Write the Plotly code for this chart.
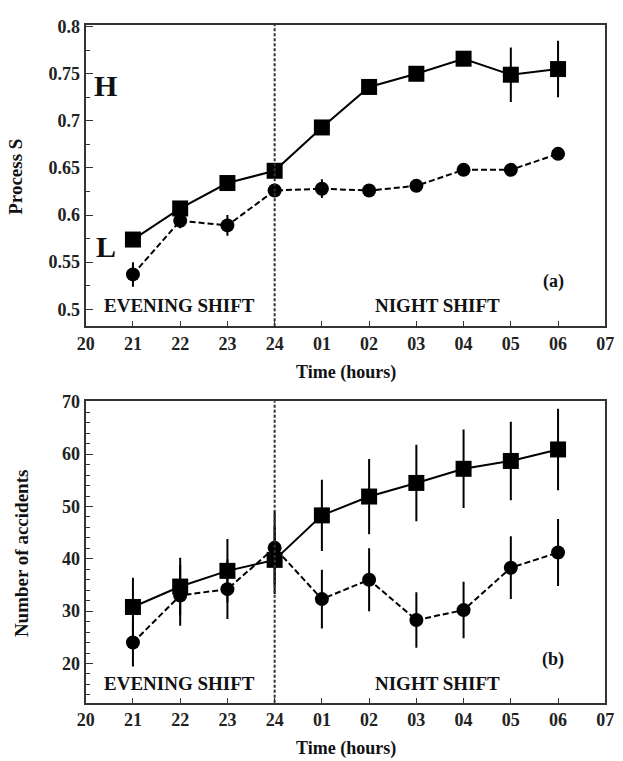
import plotly.graph_objects as go

hours = [21, 22, 23, 24, 25, 26, 27, 28, 29, 30]
x_tickvals = list(range(20, 32))
x_ticktext = ["20", "21", "22", "23", "24", "01", "02", "03", "04", "05", "06", "07"]

# Panel (a): Process S
s_high = [0.574, 0.607, 0.634, 0.647, 0.693, 0.736, 0.750, 0.766, 0.749, 0.755]
s_high_err = [0.004, 0.004, 0.004, 0.004, 0.004, 0.004, 0.004, 0.004, 0.029, 0.030]
s_low = [0.537, 0.594, 0.589, 0.626, 0.628, 0.626, 0.631, 0.648, 0.648, 0.665]
s_low_err = [0.013, 0.008, 0.011, 0.006, 0.010, 0.005, 0.005, 0.005, 0.005, 0.005]

# Panel (b): Number of accidents
acc_high = [30.8, 34.7, 37.7, 39.8, 48.3, 51.9, 54.5, 57.2, 58.7, 60.9]
acc_high_err = [5.6, 5.5, 6.1, 6.5, 6.8, 7.2, 7.3, 7.5, 7.5, 7.8]
acc_low = [24.0, 33.0, 34.2, 42.1, 32.3, 36.0, 28.3, 30.2, 38.3, 41.2]
acc_low_err = [4.6, 5.8, 5.7, 7.0, 5.6, 6.0, 5.3, 5.4, 6.0, 6.4]

top_yticks = [0.5, 0.55, 0.6, 0.65, 0.7, 0.75, 0.8]
top_yticktext = ["0.5", "0.55", "0.6", "0.65", "0.7", "0.75", "0.8"]
bot_yticks = [20, 30, 40, 50, 60, 70]
bot_yticktext = ["20", "30", "40", "50", "60", "70"]

SERIF = "Liberation Serif"
BLACK = "#000000"
AXC = "#333333"

def b(t):
    return "<b>" + t + "</b>"

fig = go.Figure()

def add_series(x, y, err, symbol, dash, size, xa, ya):
    fig.add_trace(go.Scatter(
        x=x, y=y, mode="lines+markers",
        line=dict(color=BLACK, width=2, dash=dash),
        marker=dict(symbol=symbol, size=size, color=BLACK),
        error_y=dict(type="data", array=err, visible=True, color=BLACK, thickness=2, width=0),
        xaxis=xa, yaxis=ya, showlegend=False, cliponaxis=False,
    ))

add_series(hours, s_low, s_low_err, "circle", "6px,3px", 14, "x", "y")
add_series(hours, s_high, s_high_err, "square", "solid", 16, "x", "y")
add_series(hours, acc_low, acc_low_err, "circle", "6px,3px", 14, "x2", "y2")
add_series(hours, acc_high, acc_high_err, "square", "solid", 16, "x2", "y2")

tickfont = dict(family=SERIF, size=18, color="#222")

xcommon = dict(
    range=[20, 31], tickmode="array", tickvals=x_tickvals, ticktext=[b(t) for t in x_ticktext],
    ticks="inside", ticklen=5, tickwidth=1, tickcolor=AXC,
    showline=True, linecolor=AXC, linewidth=2, mirror=True,
    showgrid=False, zeroline=False, tickfont=tickfont, ticklabeloverflow="allow",
)

fig.update_layout(
    width=623, height=761,
    margin=dict(l=0, r=0, t=0, b=0),
    paper_bgcolor="white", plot_bgcolor="white",
    xaxis=dict(**{**xcommon, "anchor": "y", "domain": [0.1268, 0.9856]}),
    xaxis2=dict(**{**xcommon, "anchor": "y2", "domain": [0.1268, 0.9856]}),
    yaxis=dict(
        domain=[0.5782, 0.979], anchor="x", range=[0.482, 0.802],
        tickmode="array", tickvals=top_yticks, ticktext=[b(t) for t in top_yticktext],
        ticks="inside", ticklen=7, tickwidth=1, tickcolor=AXC,
        minor=dict(ticks="inside", ticklen=4, tickwidth=1, tickcolor=AXC, dtick=0.025, tick0=0.5, showgrid=False),
        showline=True, linecolor=AXC, linewidth=2, mirror=True,
        showgrid=False, zeroline=False, tickfont=tickfont, ticklabeloverflow="allow",
    ),
    yaxis2=dict(
        domain=[0.0775, 0.4783], anchor="x2", range=[12.5, 70.1],
        tickmode="array", tickvals=bot_yticks, ticktext=[b(t) for t in bot_yticktext],
        ticks="inside", ticklen=7, tickwidth=1, tickcolor=AXC,
        minor=dict(ticks="inside", ticklen=4, tickwidth=1, tickcolor=AXC, dtick=2, tick0=0, showgrid=False),
        showline=True, linecolor=AXC, linewidth=2, mirror=True,
        showgrid=False, zeroline=False, tickfont=tickfont, ticklabeloverflow="allow",
    ),
)

# vertical dashed separators at midnight
for xr, yr in [("x", "y domain"), ("x2", "y2 domain")]:
    fig.add_shape(type="line", x0=24, x1=24, y0=0, y1=1, xref=xr, yref=yr,
                  line=dict(color=AXC, width=2, dash="3px,2px"))

def ann(text, x, y, xref, yref, size, **kw):
    fig.add_annotation(text=b(text), x=x, y=y, xref=xref, yref=yref, showarrow=False,
                       xanchor="center", yanchor="middle",
                       font=dict(size=size, family=SERIF, color="#111"), **kw)

# panel (a) text
ann("H", 20.42, 0.738, "x", "y", 30)
ann("L", 20.42, 0.567, "x", "y", 30)
ann("EVENING SHIFT", 21.98, 0.504, "x", "y", 19)
ann("NIGHT SHIFT", 27.45, 0.504, "x", "y", 19)
ann("(a)", 29.9, 0.529, "x", "y", 18)

# panel (b) text
ann("EVENING SHIFT", 21.98, 16.2, "x2", "y2", 19)
ann("NIGHT SHIFT", 27.45, 16.2, "x2", "y2", 19)
ann("(b)", 29.9, 20.75, "x2", "y2", 18)

# axis titles
ann("Time (hours)", 347 / 623, 1 - 368 / 761, "paper", "paper", 18)
ann("Time (hours)", 347 / 623, 1 - 748 / 761, "paper", "paper", 18)
ann("Process S", 7 / 623, 1 - 170 / 761, "paper", "paper", 19, textangle=-90)
ann("Number of accidents", 13 / 623, 1 - 551 / 761, "paper", "paper", 19, textangle=-90)

fig.write_html("out.html")
